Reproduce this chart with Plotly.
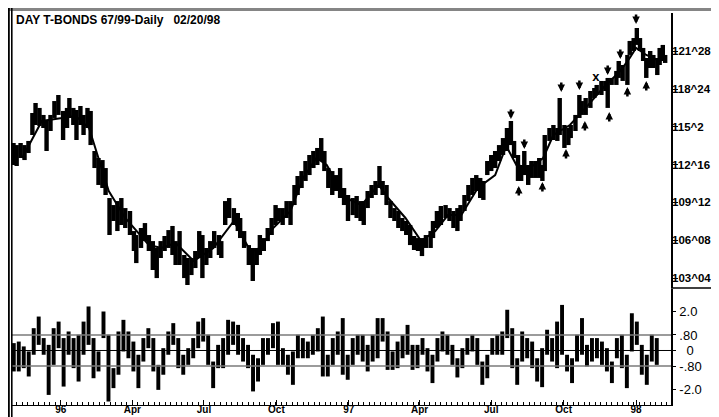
import plotly.graph_objects as go
import pandas as pd

TITLE = "DAY T-BONDS 67/99-Daily\u00a0\u00a0\u00a002/20/98"

PRICE_DATES = [
    "1995-11-02", "1995-11-06", "1995-11-11", "1995-11-16", "1995-11-21", "1995-11-26", "1995-11-30",
    "1995-12-05", "1995-12-10", "1995-12-14", "1995-12-19", "1995-12-24", "1995-12-29",
    "1996-01-04", "1996-01-09", "1996-01-12", "1996-01-17", "1996-01-21", "1996-01-26", "1996-01-30",
    "1996-02-04", "1996-02-08", "1996-02-13", "1996-02-18", "1996-02-23", "1996-02-27",
    "1996-03-03", "1996-03-08", "1996-03-13", "1996-03-18", "1996-03-23", "1996-03-29",
    "1996-04-03", "1996-04-06", "1996-04-12", "1996-04-17", "1996-04-22", "1996-04-27",
    "1996-05-02", "1996-05-07", "1996-05-12", "1996-05-17", "1996-05-22", "1996-05-26", "1996-05-31",
    "1996-06-06", "1996-06-10", "1996-06-15", "1996-06-20", "1996-06-25", "1996-06-29",
    "1996-07-04", "1996-07-09", "1996-07-14", "1996-07-20", "1996-07-23", "1996-07-28",
    "1996-08-02", "1996-08-08", "1996-08-13", "1996-08-16", "1996-08-21", "1996-08-27",
    "1996-09-01", "1996-09-06", "1996-09-10", "1996-09-15", "1996-09-20", "1996-09-25", "1996-09-30",
    "1996-10-04", "1996-10-09", "1996-10-14", "1996-10-19", "1996-10-24", "1996-10-28",
    "1996-11-02", "1996-11-07", "1996-11-12", "1996-11-17", "1996-11-22", "1996-11-27",
    "1996-12-01", "1996-12-06", "1996-12-11", "1996-12-16", "1996-12-21", "1996-12-26", "1996-12-31",
    "1997-01-06", "1997-01-11", "1997-01-16", "1997-01-20", "1997-01-25", "1997-01-30",
    "1997-02-04", "1997-02-09", "1997-02-13", "1997-02-18", "1997-02-23", "1997-02-28",
    "1997-03-05", "1997-03-10", "1997-03-15", "1997-03-20", "1997-03-25", "1997-03-30",
    "1997-04-04", "1997-04-09", "1997-04-15", "1997-04-18", "1997-04-23", "1997-04-28",
    "1997-05-04", "1997-05-09", "1997-05-14", "1997-05-19", "1997-05-23", "1997-05-28",
    "1997-06-02", "1997-06-07", "1997-06-12", "1997-06-17", "1997-06-21", "1997-06-26",
    "1997-07-01", "1997-07-06", "1997-07-11", "1997-07-16", "1997-07-21", "1997-07-26", "1997-07-30",
    "1997-08-04", "1997-08-08", "1997-08-12", "1997-08-17", "1997-08-21", "1997-08-26", "1997-08-31",
    "1997-09-04", "1997-09-07", "1997-09-13", "1997-09-18", "1997-09-23", "1997-09-26",
    "1997-10-02", "1997-10-07", "1997-10-10", "1997-10-16", "1997-10-21", "1997-10-24", "1997-10-29",
    "1997-11-04", "1997-11-09", "1997-11-12", "1997-11-18", "1997-11-23", "1997-11-26",
    "1997-12-01", "1997-12-07", "1997-12-10", "1997-12-15", "1997-12-21", "1997-12-24", "1997-12-29",
    "1998-01-02", "1998-01-06", "1998-01-10", "1998-01-14", "1998-01-19", "1998-01-23", "1998-01-28",
    "1998-01-31", "1998-02-04", "1998-02-07",
]
PRICE_HIGH = [
    114.29, 114.12, 114.29, 114.12, 114.46, 116.77, 117.60,
    117.19, 116.61, 116.11, 116.61, 117.76, 118.26,
    116.94, 117.19, 118.01, 117.19, 117.02, 117.35, 116.61,
    117.19, 116.94, 113.63, 113.05, 112.88, 112.22,
    109.74, 109.16, 109.49, 109.74, 108.91, 108.67,
    107.01, 106.68, 107.26, 107.67, 106.68, 106.18,
    105.61, 106.18, 106.60, 107.09, 107.43, 106.18, 107.01,
    105.03, 104.78, 104.78, 105.36, 107.01, 106.68,
    105.61, 106.18, 107.01, 106.68, 106.18, 109.49,
    109.74, 108.91, 108.50, 108.09, 107.01, 105.85,
    105.61, 105.61, 106.68, 106.43, 107.26, 108.09, 109.16,
    108.91, 108.91, 109.49, 109.49, 110.82, 111.56,
    111.97, 112.80, 113.30, 113.63, 113.88, 114.70,
    113.63, 112.22, 111.97, 111.64, 112.22, 110.57, 109.99,
    109.74, 109.91, 109.49, 109.49, 110.32, 110.82,
    111.15, 112.39, 111.15, 110.82, 109.49, 108.91,
    108.67, 108.09, 107.84, 107.51, 106.60, 106.43,
    106.43, 106.68, 107.01, 107.84, 108.67, 109.08,
    109.16, 108.91, 108.67, 108.91, 109.16, 109.99,
    110.82, 111.40, 111.64, 111.40, 111.15, 112.80,
    113.30, 113.63, 114.12, 114.70, 115.53, 116.11, 114.46,
    113.30, 112.47, 113.63, 112.47, 112.80, 112.80, 113.05,
    112.47, 114.95, 115.53, 115.78, 115.53, 118.01,
    115.78, 115.53, 115.78, 116.61, 118.26, 117.76, 118.01,
    118.59, 118.84, 119.09, 119.42, 119.42, 119.67,
    119.67, 120.25, 121.07, 120.74, 121.57, 122.73, 122.97,
    123.80, 122.97, 122.15, 121.32, 121.90, 121.57, 121.32,
    122.15, 122.40, 121.57,
]
PRICE_LOW = [
    112.47, 112.39, 113.05, 112.88, 113.46, 114.95, 115.78,
    115.70, 115.53, 113.63, 115.28, 116.36, 116.61,
    114.54, 115.53, 116.36, 115.78, 114.54, 115.78, 114.95,
    115.53, 114.12, 112.22, 110.82, 110.57, 109.99,
    106.68, 107.84, 107.01, 107.51, 107.26, 106.68,
    105.36, 104.36, 105.61, 106.18, 105.36, 103.79,
    103.12, 104.78, 105.36, 105.61, 105.03, 104.20, 104.20,
    103.12, 102.55, 103.37, 103.95, 104.78, 103.12,
    104.20, 104.78, 105.61, 105.03, 104.78, 107.51,
    108.09, 107.51, 107.01, 106.43, 105.61, 104.20,
    102.88, 104.20, 105.03, 105.36, 106.18, 106.68, 107.51,
    107.84, 107.51, 108.09, 107.51, 109.16, 109.99,
    110.57, 111.15, 111.64, 112.22, 112.47, 112.80,
    111.97, 110.57, 109.99, 110.32, 109.74, 109.16, 107.84,
    108.33, 108.09, 107.84, 107.51, 108.91, 109.74,
    109.99, 110.57, 109.99, 109.16, 108.09, 107.84,
    107.26, 107.01, 106.68, 105.85, 105.44, 105.36,
    104.94, 105.61, 105.61, 106.43, 107.26, 107.51,
    108.09, 107.84, 107.26, 107.01, 107.84, 108.67,
    109.49, 109.99, 110.32, 109.74, 109.58, 111.64,
    111.97, 112.22, 112.80, 113.30, 113.63, 114.12, 113.05,
    111.15, 111.15, 111.64, 110.82, 111.40, 111.40, 111.40,
    111.15, 111.97, 114.46, 114.54, 114.46, 114.95,
    113.88, 114.12, 114.70, 115.28, 116.36, 116.61, 116.61,
    117.19, 118.01, 118.26, 118.26, 118.59, 117.19,
    119.09, 119.09, 119.67, 119.42, 119.09, 121.57, 121.90,
    122.40, 121.90, 121.07, 119.67, 120.49, 120.49, 119.91,
    120.74, 121.07, 120.91,
]

MA_DATES = [
    "1995-11-13", "1995-12-08", "1996-01-20", "1996-02-06", "1996-03-02", "1996-03-23",
    "1996-04-22", "1996-05-08", "1996-05-26", "1996-06-18", "1996-07-13", "1996-08-08",
    "1996-08-29", "1996-09-11", "1996-09-27", "1996-10-19", "1996-11-04", "1996-11-21",
    "1996-12-04", "1996-12-16", "1996-12-28", "1997-01-17", "1997-02-08", "1997-02-20",
    "1997-03-14", "1997-04-03", "1997-04-21", "1997-05-07", "1997-05-24", "1997-06-14",
    "1997-07-06", "1997-07-20", "1997-08-02", "1997-08-19", "1997-09-05", "1997-09-18",
    "1997-10-09", "1997-10-29", "1997-11-20", "1997-12-12", "1997-12-24", "1998-01-01",
    "1998-01-14", "1998-01-31", "1998-02-08",
]
MA_VALUES = [
    113.05, 116.11, 116.52, 115.53, 110.32, 108.09,
    105.85, 105.61, 106.02, 104.53, 105.61, 107.84,
    105.36, 105.61, 107.26, 108.67, 111.40, 113.05,
    112.47, 111.15, 109.74, 109.16, 110.82, 109.74,
    108.09, 106.18, 107.01, 108.33, 108.33, 110.57,
    111.64, 114.04, 112.47, 112.22, 113.05, 114.95,
    115.78, 117.19, 118.84, 120.25, 121.32, 122.15,
    121.57, 121.07, 121.32,
]

# signal arrows: price at the arrow tip
DOWN_ARROW_DATES = ["1997-07-26", "1997-08-12", "1997-09-28", "1997-10-21", "1997-11-26", "1997-12-12", "1998-01-01"]
DOWN_ARROW_PRICES = [116.28, 113.79, 118.51, 118.67, 119.92, 121.24, 124.13]
UP_ARROW_DATES = ["1997-08-05", "1997-09-04", "1997-10-04", "1997-10-28", "1997-11-28", "1997-12-21", "1998-01-14"]
UP_ARROW_PRICES = [110.73, 111.06, 113.79, 116.11, 116.85, 118.92, 119.42]
X_MARK_DATES = ["1997-11-11"]
X_MARK_PRICES = [119.67]

OSC_START = "1995-11-02 08:00"
OSC_STEP = "152h"
OSC_HIGH = [
    0.38, 0.46, 0.21, -0.05, 1.15, 1.75, 0.64, 0.29, 1.15, 1.49,
    0.64, 0.98, 0.64, 0.81, 1.49, 2.27, 0.64, -0.05, 2.01, 0.81,
    -0.91, 0.98, 1.58, 0.98, 0.46, -0.22, 0.64, 1.15, 0.64, -0.74,
    0.12, 0.98, 1.41, 0.64, -0.22, 0.12, 0.64, 1.49, 1.67, 0.81,
    -0.57, 0.29, 0.64, 1.58, 1.49, 1.32, 0.64, 0.29, -0.22, -0.40,
    0.64, 0.64, 1.41, 1.49, 0.12, -0.22, -0.05, 0.81, 0.64, 0.46,
    0.81, 1.15, 1.75, -0.22, 0.64, 0.98, 1.67, -0.22, 0.64, 0.81,
    0.81, 0.29, 0.81, 1.67, 1.67, 0.98, -0.05, 0.46, 0.81, 1.32,
    0.29, 0.29, 0.64, 0.12, -0.22, 0.64, 0.98, 0.81, 0.29, -0.40,
    0.12, 0.64, 0.81, 0.64, -0.57, -0.22, 0.64, 0.81, 0.98, 2.10,
    1.15, -0.40, 0.98, 0.64, 0.46, -0.40, 0.12, 1.07, 0.64, 1.49,
    2.35, -0.22, -0.40, 0.81, 1.67, 0.29, 0.64, 0.64, 0.46, 0.12,
    -0.57, 0.64, 0.81, -0.22, 1.92, 1.49, 0.29, -0.22, 0.81, 0.64,
]
OSC_LOW = [
    -1.08, -1.08, -0.91, -1.34, -0.22, 0.29, -0.22, -2.29, -0.74, 0.12,
    -1.86, -0.22, -0.91, -1.60, -0.22, 0.29, -1.43, -1.08, 0.64, -2.63,
    -1.94, -1.25, -0.05, -0.40, -1.08, -1.94, -0.57, 0.12, -1.08, -2.03,
    -1.25, -0.22, 0.29, -0.91, -1.25, -0.74, -0.40, 0.12, 0.46, -0.74,
    -1.94, -0.91, -0.91, -0.22, 0.29, -0.22, -0.57, -0.91, -2.11, -1.60,
    -0.74, -0.22, 0.12, -0.74, -0.74, -1.25, -1.77, -0.40, -0.40, -0.40,
    -0.22, -0.05, -1.34, -1.34, -0.74, -0.22, -1.25, -1.51, -0.74, -0.22,
    -0.57, -1.08, -0.57, -0.40, 0.46, -1.00, -1.00, -0.91, -0.40, -0.22,
    -1.00, -0.91, -0.22, -1.08, -1.68, -0.57, -0.05, -0.22, -0.74, -1.39,
    -0.91, -0.22, -0.05, -0.74, -1.77, -1.43, -0.22, -0.22, -0.22, 0.64,
    -0.91, -1.77, -0.57, -0.40, -0.91, -1.60, -1.89, -0.22, -0.57, -0.91,
    -0.22, -1.08, -1.68, -0.57, -0.22, -0.82, -0.57, -0.40, -0.74, -1.08,
    -1.68, -0.40, -0.91, -1.94, -0.05, 0.29, -1.25, -1.77, -0.57, -0.74,
]
OSC_LEVELS = [0.8, -0.8]

PRICE_TICK_VALUES = [103.125, 106.25, 109.375, 112.5, 115.625, 118.75, 121.875]
PRICE_TICK_LABELS = ["103^04", "106^08", "109^12", "112^16", "115^2", "118^24", "121^28"]
OSC_TICK_VALUES = [2.0, 0.8, 0.0, -0.8, -2.0]
OSC_TICK_LABELS = ["2.0", ".80", "\u20070", "-.80", "-2.0"]
DATE_TICK_VALUES = ["1996-01-01", "1996-04-01", "1996-07-01", "1996-10-01", "1997-01-01",
                    "1997-04-01", "1997-07-01", "1997-10-01", "1998-01-01"]
DATE_TICK_LABELS = ["96", "Apr", "Jul", "Oct", "97", "Apr", "Jul", "Oct", "98"]

# ---- layout geometry (pixels) ----
W, H = 719, 417
ML, MR, MT, MB = 4, 56, 5, 20
PW, PH = W - ML - MR, H - MT - MB
DAY_MS = 86400000


def px(X):
    return (X - ML) / PW


def py(Y):
    return (H - MB - Y) / PH


FONT = "Liberation Sans, Arial, sans-serif"

osc_dates = pd.date_range(OSC_START, periods=len(OSC_HIGH), freq=OSC_STEP)

fig = go.Figure()
fig.add_trace(go.Bar(
    x=PRICE_DATES, y=[h - l for h, l in zip(PRICE_HIGH, PRICE_LOW)], base=PRICE_LOW,
    width=5.6 * DAY_MS, marker=dict(color="black", line=dict(width=0)),
    xaxis="x", yaxis="y", hoverinfo="skip"))
fig.add_trace(go.Scatter(
    x=MA_DATES, y=MA_VALUES, mode="lines", line=dict(color="black", width=2),
    xaxis="x", yaxis="y", hoverinfo="skip"))
fig.add_trace(go.Scatter(
    x=X_MARK_DATES, y=X_MARK_PRICES, mode="text", text=["x"] * len(X_MARK_DATES),
    textfont=dict(family=FONT, size=13, color="black", weight="bold"),
    xaxis="x", yaxis="y", hoverinfo="skip"))
fig.add_trace(go.Bar(
    x=osc_dates, y=[h - l for h, l in zip(OSC_HIGH, OSC_LOW)], base=OSC_LOW,
    width=5.0 * DAY_MS, marker=dict(color="black", line=dict(width=0)),
    xaxis="x", yaxis="y2", hoverinfo="skip"))

annotations = [dict(text=TITLE, xref="paper", yref="paper", x=px(6), y=py(3),
                    xanchor="left", yanchor="top", showarrow=False,
                    font=dict(family=FONT, size=12, color="black", weight="bold"))]
for d, p in zip(DOWN_ARROW_DATES, DOWN_ARROW_PRICES):
    annotations.append(dict(x=d, y=p, xref="x", yref="y", text="", showarrow=True,
                            arrowhead=2, arrowsize=0.6, arrowwidth=2.5, arrowcolor="black",
                            ax=0, ay=-11))
for d, p in zip(UP_ARROW_DATES, UP_ARROW_PRICES):
    annotations.append(dict(x=d, y=p, xref="x", yref="y", text="", showarrow=True,
                            arrowhead=2, arrowsize=0.6, arrowwidth=2.5, arrowcolor="black",
                            ax=0, ay=11))

shapes = []
for lv in OSC_LEVELS:
    shapes.append(dict(type="line", xref="paper", yref="y2", x0=0, x1=1, y0=lv, y1=lv,
                       line=dict(color="#7a7a7a", width=1.5), layer="above"))
shapes.append(dict(type="line", xref="paper", yref="y2", x0=0, x1=1, y0=0, y1=0,
                   line=dict(color="black", width=1), layer="above"))
# panel divider in the axis area
shapes.append(dict(type="line", xref="paper", yref="paper", x0=px(663), x1=px(716),
                   y0=py(280), y1=py(280), line=dict(color="black", width=1.5)))
# frame
frame = [((0, 0), (719, 3), "#858585"), ((0, 0), (1.8, 417), "black"), ((3, 0), (4.6, 417), "black"),
         ((716, 0), (719, 417), "black"), ((0, 414), (719, 417), "black")]
for (x0, y0), (x1, y1), c in frame:
    shapes.append(dict(type="rect", xref="paper", yref="paper", x0=px(x0), x1=px(x1),
                       y0=py(y1), y1=py(y0), fillcolor=c, line=dict(width=0), layer="above"))

fig.update_layout(
    width=W, height=H, template="none",
    margin=dict(l=ML, r=MR, t=MT, b=MB, pad=0),
    paper_bgcolor="white", plot_bgcolor="white",
    showlegend=False, barmode="overlay",
    xaxis=dict(type="date", anchor="y2", range=["1995-10-31 02:00", "1998-02-14 10:00"],
               tickvals=DATE_TICK_VALUES, ticktext=DATE_TICK_LABELS,
               ticks="inside", ticklen=5, tickwidth=1, tickcolor="black", ticklabelstandoff=-5,
               minor=dict(ticks="inside", ticklen=3, dtick=7 * DAY_MS, tick0="1995-11-06",
                          tickcolor="black", tickwidth=1),
               showline=True, linecolor="black", linewidth=1, showgrid=False, zeroline=False,
               tickfont=dict(family=FONT, size=10, color="black", weight="bold"),
               automargin=False, fixedrange=True),
    yaxis=dict(domain=[py(280), 1], anchor="x", side="right", range=[102.30, 125.04],
               tickvals=PRICE_TICK_VALUES, ticktext=PRICE_TICK_LABELS,
               ticks="outside", ticklen=5, tickwidth=1, tickcolor="black", ticklabelstandoff=-8,
               showline=True, linecolor="black", linewidth=1.5, showgrid=False, zeroline=False,
               tickfont=dict(family=FONT, size=11.5, color="black", weight="bold"),
               automargin=False),
    yaxis2=dict(domain=[0, py(281)], anchor="x", side="right", range=[-2.81, 3.17],
                tickvals=OSC_TICK_VALUES, ticktext=OSC_TICK_LABELS,
                ticks="outside", ticklen=3, tickwidth=1, tickcolor="black", ticklabelstandoff=1,
                showline=True, linecolor="black", linewidth=1.5, showgrid=False, zeroline=False,
                tickfont=dict(family=FONT, size=13, color="black"),
                automargin=False),
    shapes=shapes,
    annotations=annotations,
)

fig.write_html("out.html")
